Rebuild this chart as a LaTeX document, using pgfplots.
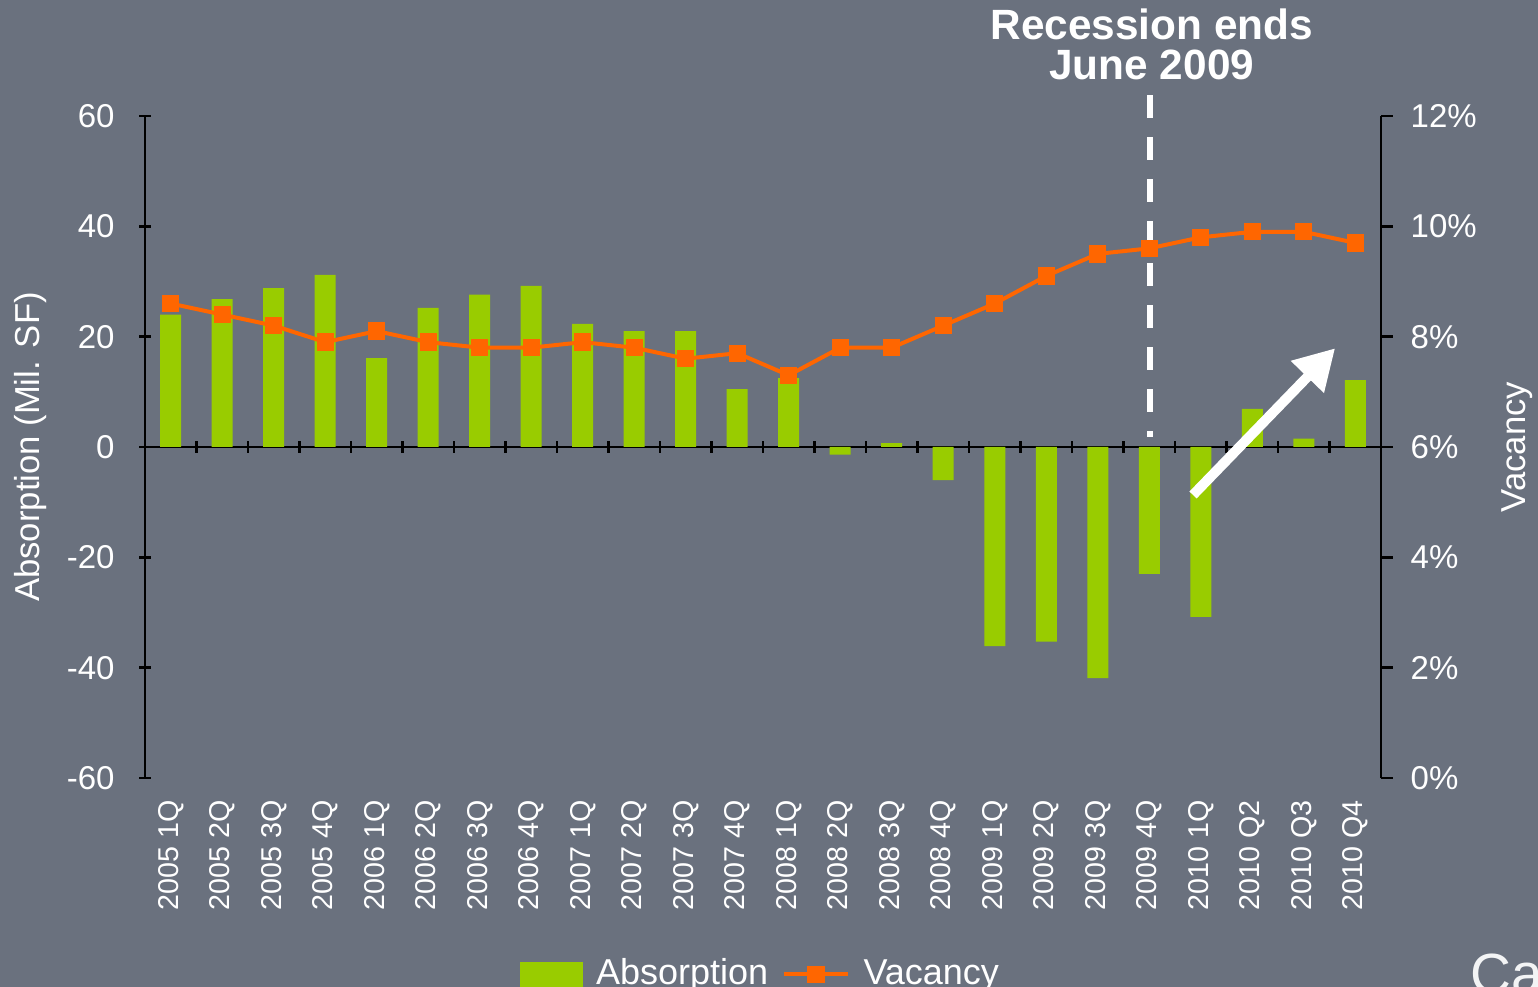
\documentclass[border=0pt]{standalone}
\usepackage{pgfplots}
\pgfplotsset{compat=1.18}
\usepackage{pgfplotstable}
\usepackage{fontspec}
\setmainfont{Liberation Sans}
\usetikzlibrary{arrows.meta}
\definecolor{bg}{RGB}{106,113,126}
\definecolor{absgreen}{HTML}{99CC00}
\definecolor{vacorange}{HTML}{FF6600}

% quarter index, absorption (Mil. SF), vacancy (%)
\pgfplotstableread{
idx absorption vacancy
0   24.0  8.6
1   26.8  8.4
2   28.8  8.2
3   31.2  7.9
4   16.1  8.1
5   25.2  7.9
6   27.6  7.8
7   29.2  7.8
8   22.3  7.9
9   21.0  7.8
10  21.0  7.6
11  10.5  7.7
12  12.5  7.3
13  -1.4  7.8
14   0.7  7.8
15  -6.0  8.2
16 -36.1  8.6
17 -35.3  9.1
18 -41.9  9.5
19 -23.0  9.6
20 -30.8  9.8
21   6.9  9.9
22   1.5  9.9
23  12.1  9.7
}\datatable

\newcommand{\tickfont}{\fontsize{9.9}{11}\selectfont}
\newcommand{\labfont}{\fontsize{10.4}{12}\selectfont}
\pgfplotsset{vacleg/.style={legend image code/.code={%
  \draw[mark repeat=2,mark phase=2,##1] plot coordinates {(0pt,0pt) (9.7pt,0pt) (19.4pt,0pt)};}},
  absleg/.style={legend image code/.code={\fill[absgreen] (0pt,-3.5pt) rectangle (18.3pt,3.5pt);}}}

\begin{document}
\begin{tikzpicture}
\path[use as bounding box,fill=bg] (-43.5pt,-62.7pt) rectangle (417.9pt,233.4pt);
\clip (-43.5pt,-62.7pt) rectangle (417.9pt,233.4pt);

\pgfplotsset{common/.style={at={(0pt,0pt)},anchor=south west,scale only axis,
  width=370.8pt,height=198.6pt,xmin=-0.5,xmax=23.5,
  tick align=outside,major tick length=3.5pt,
  tick style={black,line width=0.8pt},
  ticklabel style={white,font=\tickfont},
  hide obscured x ticks=false,hide obscured y ticks=false}}

\begin{axis}[common,ymin=-60,ymax=60,
  axis x line=middle,axis y line=left,
  axis line style={-,black,line width=0.8pt},
  xtick={0.5,1.5,...,22.5},xticklabels={},
  ytick={-60,-40,...,60},yticklabels={-60,-40,-20,0,20,40,60},
  yticklabel style={inner xsep=7.2pt},
  ylabel={Absorption (Mil. SF)},
  every axis y label/.style={at={(axis description cs:-0.093,0.5)},rotate=90,anchor=center,white,font=\labfont}]
\addplot[ybar,bar width=6.3pt,fill=absgreen,draw=none] table[x=idx,y=absorption]{\datatable};
\end{axis}

\begin{axis}[common,ymin=0,ymax=12,clip=false,
  axis y line*=right,axis x line*=bottom,
  x axis line style={draw=none},y axis line style={-,black,line width=0.8pt},
  xtick={0,...,23},xtick style={draw=none},
  xticklabels={2005 1Q,2005 2Q,2005 3Q,2005 4Q,2006 1Q,2006 2Q,2006 3Q,2006 4Q,
    2007 1Q,2007 2Q,2007 3Q,2007 4Q,2008 1Q,2008 2Q,2008 3Q,2008 4Q,
    2009 1Q,2009 2Q,2009 3Q,2009 4Q,2010 1Q,2010 Q2,2010 Q3,2010 Q4},
  xticklabel style={rotate=90,anchor=east,inner xsep=3pt,font=\fontsize{8.6}{10}\selectfont},
  ytick={0,2,...,12},yticklabels={0\%,2\%,4\%,6\%,8\%,10\%,12\%},
  yticklabel style={inner xsep=5.2pt},
  ylabel={Vacancy},
  every axis y label/.style={at={(axis description cs:1.110,0.5)},rotate=90,anchor=center,white,font=\labfont},
  legend style={at={(0.5,-0.252)},anchor=north,draw=none,fill=none,
    text=white,font=\fontsize{10.8}{12}\selectfont,legend columns=-1,
    column sep=2pt,legend cell align=left}]
\addlegendimage{absleg}
\addlegendentry{Absorption}
\addplot[vacorange,line width=1.2pt,mark=square*,mark size=2pt,vacleg]
  table[x=idx,y=vacancy]{\datatable};
\addlegendentry{Vacancy}
\draw[white,line width=1.8pt,dash pattern=on 7pt off 5.6pt] (axis cs:19.01,12.38) -- (axis cs:19.01,6.18);
\node[white,font=\bfseries\fontsize{12.7}{12}\selectfont,align=center] at (axis cs:19.05,13.29) {Recession ends\\June 2009};
\draw[white,line width=3pt,-{Triangle[length=12pt,width=13pt]}] (axis cs:19.85,5.13) -- (axis cs:22.61,7.79);
\end{axis}

\node[anchor=north west,inner sep=0pt,text=white!92!bg,font=\fontsize{17}{17}\selectfont] at (397.5pt,-52.5pt) {Ca};
\end{tikzpicture}
\end{document}
